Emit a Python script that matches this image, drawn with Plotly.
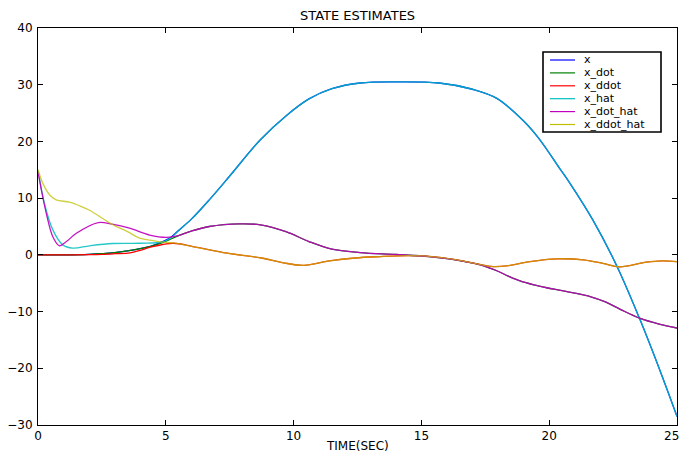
import plotly.graph_objects as go

# ---- figure geometry (pixels) ----
W, H = 682, 452
L, R, T, B = 38, 5, 28, 27

# ---- true states ----
t_x = [0, 1, 2, 3, 3.5, 4, 4.4, 4.8, 5.2, 5.5, 6.0, 6.7, 7.5, 8.7, 9.7, 10.6,
       11.5, 12.6, 14.0, 15.7, 17.0, 17.95, 19.0, 19.6, 20.4, 20.8, 21.7,
       22.65, 23.56, 24.3, 25]
x = [0, 0, 0.1, 0.4, 0.7, 1.1, 1.5, 2.2, 3.1, 4.3, 6.3, 9.7, 13.9, 20.3, 24.5,
     27.5, 29.3, 30.3, 30.5, 30.3, 29.2, 27.6, 23.6, 20.5, 15.3, 12.7, 6.2,
     -2.0, -11.5, -20.0, -28.5]

t_xdot = [0, 1, 2, 3, 3.5, 4, 4.4, 4.9, 5.5, 6.0, 6.7, 7.9, 8.7, 9.7, 10.6,
          11.5, 12.6, 14.0, 15.3, 16.0, 16.6, 17.3, 17.95, 18.4, 18.86, 19.4,
          19.9, 20.5, 21.0, 21.6, 22.2, 22.78, 23.56, 24.3, 25]
x_dot = [0, 0, 0.1, 0.4, 0.7, 1.1, 1.5, 2.2, 3.4, 4.2, 5.0, 5.47, 5.3, 4.1,
         2.35, 1.0, 0.4, 0.06, -0.3, -0.65, -1.1, -1.75, -2.8, -3.75, -4.6,
         -5.3, -5.8, -6.3, -6.75, -7.35, -8.3, -9.6, -11.2, -12.2, -12.9]

t_xddot = [0, 1, 2, 2.5, 3, 3.6, 4.0, 4.4, 5.28, 6.06, 7.4, 8.8, 9.6, 10.4,
           11.4, 12.4, 13.4, 14.5, 15.1, 16.4, 17.2, 17.8, 18.4, 19.25, 20.3,
           21.34, 22.1, 22.75, 23.8, 24.4, 25]
x_ddot = [0, 0, 0.05, 0.1, 0.2, 0.35, 0.8, 1.35, 2.05, 1.47, 0.3, -0.6, -1.4,
          -1.85, -1.06, -0.55, -0.3, -0.12, -0.18, -0.88, -1.6, -2.06, -1.9,
          -1.18, -0.7, -0.88, -1.5, -2.12, -1.3, -1.05, -1.18]

# ---- estimates: start-up transient, then they lock onto the states ----
t_xhat0 = [0, 0.25, 0.58, 0.97, 1.36, 2.02, 2.93, 4.0, 4.89, 5.2, 5.5]
x_hat0 = [15, 9.1, 4.4, 1.76, 1.18, 1.6, 2.0, 2.05, 2.3, 3.0, 4.3]

t_xdothat0 = [0, 0.32, 0.58, 0.84, 1.1, 1.5, 2.36, 2.9, 3.58, 4.37, 5.02, 5.5]
x_dot_hat0 = [14.6, 7.4, 3.2, 1.6, 2.3, 3.8, 5.7, 5.4, 4.7, 3.5, 3.1, 3.4]

t_xddothat0 = [0, 0.19, 0.45, 0.71, 1.23, 1.6, 2.0, 2.93, 3.5, 3.98, 4.5,
               4.89, 5.28]
x_ddot_hat0 = [15, 12.6, 10.6, 9.7, 9.3, 8.7, 7.9, 5.3, 4.1, 2.94, 2.5, 2.24,
               2.1]


def join(t0, y0, t1, y1):
    """Transient samples followed by the tracked state beyond them."""
    tt = list(t0) + [t for t in t1 if t > t0[-1]]
    yy = list(y0) + [y for t, y in zip(t1, y1) if t > t0[-1]]
    return tt, yy


t_xhat, x_hat = join(t_xhat0, x_hat0, t_x, x)
t_xdothat, x_dot_hat = join(t_xdothat0, x_dot_hat0, t_xdot, x_dot)
t_xddothat, x_ddot_hat = join(t_xddothat0, x_ddot_hat0, t_xddot, x_ddot)

series = [
    ("x", t_x, x, "#0000ff", 1.0),
    ("x_dot", t_xdot, x_dot, "#008000", 1.0),
    ("x_ddot", t_xddot, x_ddot, "#ff0000", 1.0),
    ("x_hat", t_xhat, x_hat, "#00bfbf", 0.85),
    ("x_dot_hat", t_xdothat, x_dot_hat, "#bf00bf", 0.92),
    ("x_ddot_hat", t_xddothat, x_ddot_hat, "#bfbf00", 0.75),
]

x_ticks = [0, 5, 10, 15, 20, 25]
x_tick_labels = ["0", "5", "10", "15", "20", "25"]
y_ticks = [-30, -20, -10, 0, 10, 20, 30, 40]

FONT = "DejaVu Sans"
FS = 12

fig = go.Figure()
for name, tt, yy, color, op in series:
    fig.add_trace(go.Scatter(
        x=tt, y=yy, name=name, mode="lines",
        line=dict(color=color, width=1.3, shape="spline", smoothing=1.0),
        opacity=op, showlegend=False,
    ))

PW, PH = W - L - R, H - T - B


def px(u):
    return (u - L) / PW


def py(v):
    return (H - B - v) / PH


shapes = []
annotations = []

# legend box drawn in pixel-derived paper coordinates
shapes.append(dict(type="rect", xref="paper", yref="paper",
                   x0=px(543), x1=px(661), y0=py(52), y1=py(132),
                   line=dict(color="black", width=1.6), fillcolor="white",
                   layer="above"))
for i, (name, tt, yy, color, op) in enumerate(series):
    yrow = py(60 + 12.9 * i)
    shapes.append(dict(type="line", xref="paper", yref="paper",
                       x0=px(550), x1=px(575), y0=yrow, y1=yrow,
                       line=dict(color=color, width=1.2), layer="above"))
    annotations.append(dict(text=name, xref="paper", yref="paper",
                            x=px(582), y=yrow, xanchor="left", yanchor="middle",
                            showarrow=False,
                            font=dict(family=FONT, size=11, color="black")))

annotations.append(dict(text="STATE ESTIMATES", xref="paper", yref="paper",
                        x=0.5, y=py(16), xanchor="center", yanchor="middle",
                        showarrow=False,
                        font=dict(family=FONT, size=FS + 1, color="black")))
annotations.append(dict(text="TIME(SEC)", xref="paper", yref="paper",
                        x=0.5, y=py(446), xanchor="center", yanchor="middle",
                        showarrow=False,
                        font=dict(family=FONT, size=FS, color="black")))

# the last x tick label sits at the figure edge: right-align it so it stays whole
annotations.append(dict(text=x_tick_labels[-1], xref="x", yref="paper",
                        x=x_ticks[-1], y=0, xanchor="right", yanchor="top",
                        xshift=4, yshift=-2, showarrow=False,
                        font=dict(family=FONT, size=FS, color="black")))

axis_common = dict(showgrid=False, zeroline=False, showline=True,
                   linecolor="black", linewidth=1, mirror="ticks",
                   ticks="inside", ticklen=5, tickcolor="black",
                   automargin=False,
                   tickfont=dict(family=FONT, size=FS, color="black"))

fig.update_layout(
    width=W, height=H,
    margin=dict(l=L, r=R, t=T, b=B, pad=0, autoexpand=False),
    plot_bgcolor="white", paper_bgcolor="white",
    xaxis=dict(range=[0, 25], tickvals=x_ticks,
               ticktext=x_tick_labels[:-1] + [""], **axis_common),
    yaxis=dict(range=[-30, 40], tickvals=y_ticks, ticklabelstandoff=2,
               **axis_common),
    shapes=shapes, annotations=annotations, showlegend=False,
)

fig.write_html("out.html")
